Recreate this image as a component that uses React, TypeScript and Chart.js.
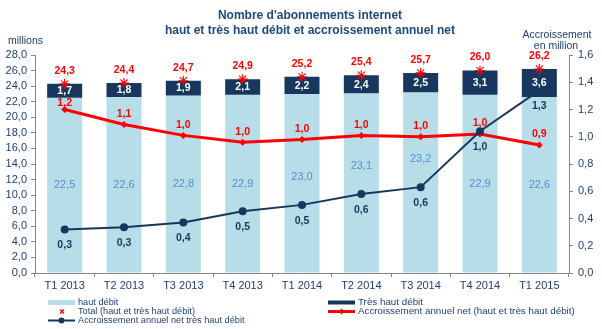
import React, { useEffect, useRef } from 'react';
import { Chart, registerables } from 'chart.js';

Chart.register(...registerables);

const categories = ['T1 2013', 'T2 2013', 'T3 2013', 'T4 2013', 'T1 2014', 'T2 2014', 'T3 2014', 'T4 2014', 'T1 2015'];
const hautDebit = [22.5, 22.6, 22.8, 22.9, 23.0, 23.1, 23.2, 22.9, 22.6];
const tresHautDebit = [1.7, 1.8, 1.9, 2.1, 2.2, 2.4, 2.5, 3.1, 3.6];
const totals = [24.3, 24.4, 24.7, 24.9, 25.2, 25.4, 25.7, 26.0, 26.2];
const accroissementTotal = [1.2, 1.09, 1.01, 0.96, 0.98, 1.01, 1.0, 1.02, 0.94];
const accroissementTHD = [0.32, 0.335, 0.37, 0.453, 0.5, 0.58, 0.63, 1.04, 1.34];

const titleLines = ["Nombre d'abonnements internet", 'haut et très haut débit et accroissement annuel net'];
const leftAxisTitle = 'millions';
const rightAxisTitle = ['Accroissement', 'en million'];
const legendLabels = {
  haut: 'haut débit',
  thd: 'Très haut débit',
  total: 'Total (haut et très haut débit)',
  accTotal: 'Accroissement annuel net (haut et très haut débit)',
  accTHD: 'Accroissement annuel net très haut débit',
};

const FONT = '"Liberation Sans", Arial, sans-serif';
const NAVY = '#1F3F6F';
const LIGHT = '#B7DEE8';
const DARK = '#17375E';
const RED = '#FF0000';
const AXIS = '#868686';
const LIGHT_TEXT = '#558ED5';

const fmt = (v: number) => v.toFixed(1).replace('.', ',');

const labelsPlugin = {
  id: 'valueLabels',
  afterDatasetsDraw(chart: any) {
    const ctx = chart.ctx;
    ctx.save();
    ctx.textAlign = 'center';
    ctx.textBaseline = 'middle';
    const mDL = chart.getDatasetMeta(2);
    const mDark = chart.getDatasetMeta(3);
    // light bars (moved above the dark line when they would collide)
    const mLight = chart.getDatasetMeta(0);
    ctx.font = `11px ${FONT}`;
    ctx.fillStyle = LIGHT_TEXT;
    mLight.data.forEach((el: any, i: number) => {
      let y = (el.y + el.base) / 2;
      const dy = mDL.data[i].y;
      if (Math.abs(dy - y) < 24) y = dy - 28;
      ctx.fillText(fmt(hautDebit[i]), el.x, y);
    });
    // dark bars
    ctx.font = `bold 10.5px ${FONT}`;
    ctx.fillStyle = '#FFFFFF';
    mDark.data.forEach((el: any, i: number) => {
      ctx.fillText(fmt(tresHautDebit[i]), el.x, (el.y + el.base) / 2 + 0.5);
    });
    // totals
    const mTot = chart.getDatasetMeta(4);
    ctx.fillStyle = RED;
    mTot.data.forEach((el: any, i: number) => {
      ctx.fillText(fmt(totals[i]), el.x, el.y - 13);
    });
    // red line (kept below the dark bar segment)
    const mRed = chart.getDatasetMeta(1);
    mRed.data.forEach((el: any, i: number) => {
      const y = Math.max(el.y - 10.5, mDark.data[i].base + 5);
      ctx.fillText(fmt(accroissementTotal[i]), el.x, y);
    });
    // dark line
    ctx.fillStyle = DARK;
    mDL.data.forEach((el: any, i: number) => {
      ctx.fillText(fmt(accroissementTHD[i]), el.x, el.y + 16);
    });
    ctx.restore();
  },
};

const decorPlugin = {
  id: 'decor',
  afterDraw(chart: any) {
    const ctx = chart.ctx;
    ctx.save();
    ctx.fillStyle = '#1F497D';
    ctx.font = `bold 12px ${FONT}`;
    ctx.textAlign = 'center';
    ctx.textBaseline = 'middle';
    ctx.fillText(titleLines[0], 310, 16);
    ctx.fillText(titleLines[1], 310, 31);
    ctx.fillStyle = NAVY;
    ctx.font = `10.5px ${FONT}`;
    ctx.textAlign = 'left';
    ctx.fillText(leftAxisTitle, 8, 41);
    ctx.textAlign = 'center';
    ctx.fillText(rightAxisTitle[0], 557, 35);
    ctx.fillText(rightAxisTitle[1], 556, 46.5);

    // legend
    ctx.font = `9.2px ${FONT}`;
    ctx.textAlign = 'left';
    const r1 = 302.5, r2 = 311.5, r3 = 320.5;
    ctx.fillStyle = LIGHT;
    ctx.fillRect(48, 300, 27, 5);
    ctx.fillStyle = DARK;
    ctx.fillRect(328, 300.5, 27, 4);
    ctx.fillStyle = NAVY;
    ctx.fillText(legendLabels.haut, 78, r1);
    ctx.font = `9.8px ${FONT}`;
    ctx.fillText(legendLabels.thd, 358, r1);
    ctx.strokeStyle = RED;
    ctx.lineWidth = 1.3;
    ctx.beginPath();
    ctx.moveTo(60, r2 - 2); ctx.lineTo(64, r2 + 2);
    ctx.moveTo(64, r2 - 2); ctx.lineTo(60, r2 + 2);
    ctx.stroke();
    ctx.lineWidth = 3;
    ctx.beginPath();
    ctx.moveTo(328, r2); ctx.lineTo(355, r2);
    ctx.stroke();
    ctx.fillStyle = RED;
    ctx.beginPath();
    ctx.moveTo(341.5, r2 - 3); ctx.lineTo(344.5, r2); ctx.lineTo(341.5, r2 + 3); ctx.lineTo(338.5, r2);
    ctx.closePath(); ctx.fill();
    ctx.fillStyle = NAVY;
    ctx.fillText(legendLabels.accTotal, 358, r2);
    ctx.font = `9.2px ${FONT}`;
    ctx.fillText(legendLabels.total, 78, r2);
    ctx.strokeStyle = DARK;
    ctx.lineWidth = 2;
    ctx.beginPath();
    ctx.moveTo(48, r3); ctx.lineTo(75, r3);
    ctx.stroke();
    ctx.fillStyle = DARK;
    ctx.beginPath();
    ctx.arc(61.5, r3, 3, 0, Math.PI * 2);
    ctx.fill();
    ctx.fillStyle = NAVY;
    ctx.fillText(legendLabels.accTHD, 78, r3);
    ctx.restore();
  },
};

export default function App() {
  const ref = useRef<HTMLCanvasElement | null>(null);
  useEffect(() => {
    if (!ref.current) return;
    Chart.defaults.font.family = FONT;
    const chart = new Chart(ref.current, {
      type: 'bar',
      data: {
        labels: categories,
        datasets: [
          {
            type: 'bar',
            label: legendLabels.haut,
            data: hautDebit,
            backgroundColor: LIGHT,
            yAxisID: 'y',
            order: 5,
            grouped: false,
            barPercentage: 0.59,
            categoryPercentage: 1,
          } as any,
          {
            type: 'line',
            label: legendLabels.accTotal,
            data: accroissementTotal,
            borderColor: RED,
            backgroundColor: RED,
            borderWidth: 3,
            pointStyle: 'rectRot',
            pointRadius: 3.5,
            pointBorderWidth: 0,
            yAxisID: 'y1',
            order: 4,
            tension: 0,
          } as any,
          {
            type: 'line',
            label: legendLabels.accTHD,
            data: accroissementTHD,
            borderColor: DARK,
            backgroundColor: DARK,
            borderWidth: 2,
            pointStyle: 'circle',
            pointRadius: 4,
            pointBorderWidth: 0,
            yAxisID: 'y1',
            order: 3,
            tension: 0,
          } as any,
          {
            type: 'bar',
            label: legendLabels.thd,
            data: hautDebit.map((h, i) => [h, totals[i]]),
            backgroundColor: DARK,
            yAxisID: 'y',
            order: 2,
            grouped: false,
            barPercentage: 0.59,
            categoryPercentage: 1,
          } as any,
          {
            type: 'line',
            label: legendLabels.total,
            data: totals,
            showLine: false,
            pointStyle: 'star',
            pointRadius: 5,
            pointBorderColor: RED,
            pointBorderWidth: 1.1,
            borderColor: RED,
            yAxisID: 'y',
            order: 1,
          } as any,
        ],
      },
      options: {
        responsive: true,
        maintainAspectRatio: false,
        animation: false,
        layout: { padding: { top: 55, left: 0, right: 0, bottom: 0 } },
        plugins: {
          legend: { display: false },
          title: { display: false },
          tooltip: { enabled: false },
        },
        scales: {
          x: {
            offset: true,
            grid: { display: true, drawOnChartArea: false, drawTicks: true, tickLength: 4, color: AXIS, offset: true },
            border: { display: true, color: AXIS },
            ticks: { color: NAVY, font: { size: 11 }, padding: 2, maxRotation: 0, autoSkip: false },
            afterFit: (s: any) => { s.height = 56; },
          },
          y: {
            position: 'left',
            min: 0,
            max: 28,
            grid: { display: true, drawOnChartArea: false, drawTicks: true, tickLength: 4, color: AXIS },
            border: { display: true, color: AXIS },
            ticks: { stepSize: 2, autoSkip: false, color: NAVY, font: { size: 11 }, padding: 4, callback: (v: any) => fmt(Number(v)) },
            afterFit: (s: any) => { s.width = 35; },
          },
          y1: {
            position: 'right',
            min: 0,
            max: 1.6,
            grid: { display: true, drawOnChartArea: false, drawTicks: true, tickLength: 4, color: AXIS },
            border: { display: true, color: AXIS },
            ticks: { stepSize: 0.2, autoSkip: false, color: NAVY, font: { size: 11 }, padding: 5, callback: (v: any) => fmt(Number(v)) },
            afterFit: (s: any) => { s.width = 33; },
          },
        },
      } as any,
      plugins: [labelsPlugin, decorPlugin],
    });
    return () => chart.destroy();
  }, []);
  return (
    <div style={{ position: 'fixed', left: 0, top: 0, width: 602, height: 329, background: '#FFFFFF' }}>
      <canvas ref={ref} />
    </div>
  );
}
